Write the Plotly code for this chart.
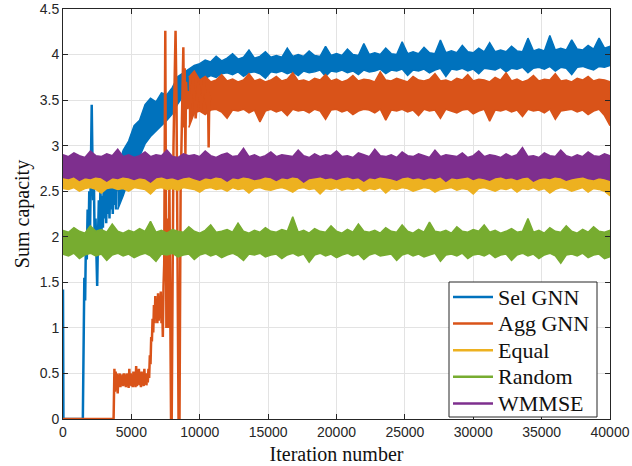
import plotly.graph_objects as go

# ---------------- data ----------------
# sampling grids (iteration index) for the steady-state envelopes
grid_all = list(range(0, 40001, 400))      # 101 samples
grid_sel = list(range(4000, 40001, 400))   # 91 samples
grid_agg = list(range(9200, 40001, 400))   # 78 samples

# WMMSE: upper / lower envelope of the noisy curve
wmmse_hi = [2.90, 2.88, 2.92, 2.89, 2.87, 2.94, 2.89, 2.88, 2.91, 2.89,
            2.96, 2.88, 2.90, 2.87, 2.89, 2.93, 2.88, 2.90, 2.89, 2.95,
            2.88, 2.87, 2.91, 2.89, 2.90, 2.88, 2.94, 2.89, 2.87, 2.90,
            2.92, 2.88, 2.89, 2.97, 2.88, 2.90, 2.87, 2.89, 2.93, 2.88,
            2.90, 2.89, 2.88, 2.95, 2.89, 2.87, 2.91, 2.88, 2.90, 2.89,
            2.94, 2.88, 2.89, 2.87, 2.92, 2.90, 2.88, 2.96, 2.89, 2.88,
            2.90, 2.87, 2.93, 2.89, 2.88, 2.91, 2.89, 2.87, 2.95, 2.88,
            2.90, 2.89, 2.88, 2.92, 2.87, 2.89, 2.94, 2.88, 2.90, 2.89,
            2.87, 2.91, 2.88, 2.90, 2.98, 2.88, 2.89, 2.87, 2.92, 2.89,
            2.88, 2.95, 2.89, 2.87, 2.90, 2.88, 2.93, 2.89, 2.88, 2.91, 2.89]
wmmse_lo = [2.65, 2.64, 2.66, 2.62, 2.65, 2.64, 2.66, 2.65, 2.61, 2.65,
            2.64, 2.66, 2.65, 2.63, 2.65, 2.64, 2.60, 2.65, 2.66, 2.64,
            2.65, 2.63, 2.65, 2.66, 2.64, 2.62, 2.65, 2.64, 2.66, 2.65,
            2.61, 2.65, 2.64, 2.66, 2.65, 2.63, 2.64, 2.66, 2.65, 2.62,
            2.65, 2.64, 2.66, 2.65, 2.60, 2.64, 2.65, 2.66, 2.64, 2.65,
            2.63, 2.65, 2.66, 2.64, 2.65, 2.61, 2.65, 2.64, 2.66, 2.65,
            2.64, 2.62, 2.65, 2.66, 2.64, 2.65, 2.63, 2.65, 2.64, 2.66,
            2.61, 2.65, 2.64, 2.65, 2.66, 2.63, 2.65, 2.64, 2.62, 2.65,
            2.66, 2.64, 2.65, 2.63, 2.65, 2.66, 2.61, 2.64, 2.65, 2.64,
            2.66, 2.65, 2.62, 2.64, 2.65, 2.66, 2.64, 2.63, 2.65, 2.64, 2.62]

# Equal power allocation
equal_hi = [2.68, 2.66, 2.70, 2.65, 2.69, 2.67, 2.71, 2.66, 2.68, 2.70,
            2.65, 2.69, 2.67, 2.72, 2.66, 2.68, 2.70, 2.65, 2.67, 2.69,
            2.71, 2.66, 2.68, 2.65, 2.70, 2.67, 2.69, 2.66, 2.71, 2.68,
            2.65, 2.70, 2.67, 2.69, 2.66, 2.72, 2.68, 2.65, 2.70, 2.67,
            2.69, 2.66, 2.71, 2.68, 2.65, 2.70, 2.67, 2.69, 2.66, 2.72,
            2.68, 2.65, 2.70, 2.67, 2.69, 2.66, 2.71, 2.68, 2.65, 2.70,
            2.67, 2.69, 2.66, 2.72, 2.68, 2.65, 2.70, 2.67, 2.69, 2.66,
            2.71, 2.68, 2.65, 2.70, 2.67, 2.69, 2.66, 2.72, 2.68, 2.65,
            2.70, 2.67, 2.69, 2.66, 2.71, 2.68, 2.65, 2.70, 2.67, 2.69,
            2.66, 2.72, 2.68, 2.65, 2.70, 2.67, 2.69, 2.66, 2.71, 2.68, 2.66]
equal_lo = [2.53, 2.52, 2.54, 2.50, 2.53, 2.54, 2.52, 2.48, 2.53, 2.54,
            2.52, 2.53, 2.50, 2.54, 2.53, 2.52, 2.47, 2.53, 2.54, 2.52,
            2.53, 2.51, 2.54, 2.53, 2.52, 2.49, 2.53, 2.54, 2.52, 2.53,
            2.50, 2.54, 2.52, 2.53, 2.48, 2.53, 2.54, 2.52, 2.51, 2.53,
            2.54, 2.52, 2.49, 2.53, 2.54, 2.52, 2.53, 2.47, 2.53, 2.52,
            2.54, 2.51, 2.53, 2.52, 2.54, 2.50, 2.53, 2.52, 2.54, 2.48,
            2.53, 2.52, 2.54, 2.53, 2.50, 2.52, 2.54, 2.53, 2.49, 2.52,
            2.53, 2.54, 2.51, 2.53, 2.52, 2.47, 2.53, 2.54, 2.52, 2.50,
            2.53, 2.52, 2.54, 2.49, 2.53, 2.52, 2.54, 2.51, 2.53, 2.48,
            2.52, 2.54, 2.53, 2.50, 2.52, 2.54, 2.49, 2.53, 2.52, 2.50, 2.45]

# Random allocation
random_hi = [2.07, 2.05, 2.10, 2.06, 2.04, 2.12, 2.06, 2.08, 2.05, 2.14,
             2.06, 2.04, 2.07, 2.05, 2.09, 2.06, 2.17, 2.05, 2.07, 2.04,
             2.08, 2.06, 2.05, 2.11, 2.06, 2.04, 2.07, 2.13, 2.05, 2.06,
             2.08, 2.05, 2.15, 2.06, 2.04, 2.07, 2.05, 2.10, 2.06, 2.05,
             2.08, 2.06, 2.22, 2.05, 2.07, 2.04, 2.09, 2.06, 2.05, 2.12,
             2.06, 2.04, 2.08, 2.05, 2.14, 2.06, 2.05, 2.07, 2.04, 2.10,
             2.06, 2.05, 2.13, 2.06, 2.04, 2.08, 2.05, 2.16, 2.06, 2.05,
             2.07, 2.04, 2.11, 2.06, 2.05, 2.08, 2.06, 2.13, 2.05, 2.07,
             2.04, 2.06, 2.09, 2.05, 2.06, 2.20, 2.05, 2.07, 2.04, 2.10,
             2.06, 2.05, 2.12, 2.06, 2.04, 2.08, 2.05, 2.11, 2.06, 2.05, 2.07]
random_lo = [1.81, 1.79, 1.82, 1.76, 1.80, 1.82, 1.79, 1.81, 1.74, 1.80,
             1.82, 1.79, 1.81, 1.77, 1.80, 1.82, 1.79, 1.73, 1.81, 1.80,
             1.82, 1.78, 1.80, 1.81, 1.75, 1.80, 1.82, 1.79, 1.81, 1.77,
             1.80, 1.82, 1.79, 1.74, 1.81, 1.80, 1.82, 1.78, 1.80, 1.81,
             1.76, 1.80, 1.82, 1.79, 1.81, 1.72, 1.80, 1.82, 1.79, 1.81,
             1.77, 1.80, 1.82, 1.79, 1.81, 1.75, 1.80, 1.82, 1.79, 1.80,
             1.81, 1.74, 1.80, 1.82, 1.79, 1.81, 1.78, 1.80, 1.82, 1.73,
             1.80, 1.81, 1.79, 1.82, 1.76, 1.80, 1.81, 1.79, 1.82, 1.77,
             1.80, 1.81, 1.74, 1.80, 1.82, 1.79, 1.81, 1.76, 1.80, 1.82,
             1.79, 1.71, 1.80, 1.81, 1.79, 1.82, 1.77, 1.80, 1.81, 1.76, 1.78]

# Selection GNN: warm-up trace, then envelope from iteration 4000 on
sel_early_iter = [0, 30, 1450, 1500, 1560, 1620, 1680, 1740, 1800, 1860,
                  1920, 1980, 2040, 2100, 2140, 2200, 2260, 2320, 2380, 2440,
                  2500, 2560, 2620, 2680, 2740, 2800, 2860, 2920, 2980, 3040,
                  3100, 3160, 3220, 3280, 3340, 3400, 3460, 3520, 3580, 3640,
                  3700, 3760, 3820, 3880, 3940, 4000]
sel_early_val = [1.42, 0.00, 0.00, 0.90, 1.55, 1.30, 2.00, 1.75, 2.30, 1.90,
                 2.50, 2.10, 2.70, 3.45, 3.00, 2.40, 2.60, 1.90, 2.20, 1.60,
                 1.46, 2.00, 2.40, 2.05, 2.55, 1.90, 2.45, 2.10, 2.60, 2.20,
                 2.55, 2.15, 2.65, 2.25, 2.60, 2.20, 2.70, 2.30, 2.65, 2.25,
                 2.75, 2.35, 2.70, 2.30, 2.80, 2.50]
sel_hi = [2.75, 2.95, 3.05, 3.22, 3.28, 3.45, 3.52, 3.48, 3.58, 3.56,
          3.64, 3.76, 3.80, 3.84, 3.88, 3.90, 3.94, 3.92, 3.98, 3.93,
          3.96, 4.01, 3.95, 3.97, 4.05, 3.96, 3.98, 4.03, 3.97, 3.99,
          3.97, 4.07, 3.98, 4.00, 3.98, 4.04, 3.99, 3.98, 4.09, 3.99,
          4.01, 3.99, 4.06, 4.00, 3.99, 4.12, 4.00, 4.02, 4.00, 4.07,
          4.01, 4.00, 4.14, 4.01, 4.03, 4.01, 4.08, 4.02, 4.01, 4.16,
          4.02, 4.04, 4.02, 4.10, 4.03, 4.02, 4.07, 4.03, 4.13, 4.03,
          4.05, 4.03, 4.09, 4.04, 4.03, 4.18, 4.04, 4.06, 4.04, 4.21,
          4.05, 4.07, 4.05, 4.16, 4.06, 4.05, 4.10, 4.06, 4.18, 4.07,
          4.09]
sel_lo = [2.30, 2.45, 2.62, 2.80, 2.88, 3.02, 3.10, 3.15, 3.22, 3.28,
          3.35, 3.46, 3.55, 3.60, 3.66, 3.70, 3.74, 3.77, 3.75, 3.79,
          3.80, 3.78, 3.81, 3.76, 3.80, 3.81, 3.79, 3.74, 3.81, 3.80,
          3.82, 3.79, 3.81, 3.77, 3.82, 3.80, 3.81, 3.83, 3.76, 3.82,
          3.81, 3.83, 3.80, 3.82, 3.78, 3.83, 3.81, 3.82, 3.84, 3.79,
          3.83, 3.82, 3.84, 3.77, 3.83, 3.82, 3.84, 3.80, 3.83, 3.85,
          3.76, 3.84, 3.83, 3.85, 3.82, 3.84, 3.79, 3.85, 3.84, 3.83,
          3.86, 3.81, 3.85, 3.84, 3.86, 3.80, 3.85, 3.86, 3.84, 3.87,
          3.82, 3.86, 3.85, 3.78, 3.86, 3.87, 3.85, 3.83, 3.87, 3.86,
          3.88]

# Aggregation GNN: warm-up trace, then envelope from iteration 9200 on
agg_early_iter = [0, 3700, 3760, 3800, 3850, 3900, 3950, 4000, 4050, 4100,
                  4150, 4200, 4250, 4300, 4350, 4400, 4450, 4500, 4550, 4600,
                  4650, 4700, 4750, 4800, 4850, 4900, 4950, 5000, 5050, 5100,
                  5150, 5200, 5250, 5300, 5350, 5400, 5450, 5500, 5550, 5600,
                  5650, 5700, 5750, 5800, 5850, 5900, 5950, 6000, 6050, 6100,
                  6150, 6200, 6250, 6300, 6350, 6400, 6450, 6500, 6550, 6600,
                  6650, 6700, 6750, 6800, 6850, 6900, 6950, 7000, 7050, 7100,
                  7150, 7200, 7250, 7300, 7350, 7400, 7480, 7560, 7620, 7700,
                  7780, 7850, 7900, 7950, 8000, 8080, 8150, 8230, 8300, 8380,
                  8450, 8520, 8600, 8700, 8800, 8850, 8900, 8950, 9000, 9100,
                  9200, 9300, 9500, 9700, 9900, 10100, 10300, 10500, 10600, 10650,
                  10700, 10800]
agg_early_val = [0.00, 0.00, 0.55, 0.30, 0.52, 0.40, 0.50, 0.28, 0.48, 0.38,
                 0.50, 0.35, 0.47, 0.37, 0.49, 0.36, 0.50, 0.38, 0.46, 0.35,
                 0.50, 0.37, 0.48, 0.34, 0.55, 0.38, 0.50, 0.36, 0.47, 0.35,
                 0.52, 0.37, 0.46, 0.35, 0.58, 0.36, 0.49, 0.38, 0.55, 0.37,
                 0.47, 0.35, 0.52, 0.38, 0.48, 0.36, 0.55, 0.38, 0.50, 0.37,
                 0.46, 0.40, 0.55, 0.45, 0.70, 0.60, 0.90, 0.85, 1.10, 0.95,
                 1.25, 1.05, 1.35, 1.10, 1.30, 1.05, 1.38, 1.08, 1.32, 1.15,
                 1.40, 1.05, 1.30, 0.90, 1.45, 1.70, 4.26, 1.00, 2.20, 1.00,
                 2.60, 0.60, 0.00, 0.00, 2.00, 3.00, 3.60, 4.26, 3.50, 1.00,
                 0.00, 0.00, 2.50, 3.30, 4.08, 3.20, 3.85, 2.90, 3.70, 3.40,
                 3.60, 3.40, 3.75, 3.30, 3.70, 3.40, 3.72, 3.45, 3.60, 2.98,
                 3.55, 3.50]
agg_hi = [3.75, 3.82, 3.72, 3.76, 3.70, 3.72, 3.78, 3.71, 3.73, 3.70,
          3.72, 3.79, 3.71, 3.73, 3.70, 3.72, 3.76, 3.71, 3.73, 3.80,
          3.71, 3.72, 3.70, 3.74, 3.72, 3.78, 3.71, 3.73, 3.70, 3.72,
          3.77, 3.71, 3.73, 3.72, 3.70, 3.81, 3.72, 3.71, 3.74, 3.72,
          3.70, 3.76, 3.72, 3.71, 3.73, 3.79, 3.71, 3.72, 3.70, 3.74,
          3.72, 3.78, 3.71, 3.73, 3.72, 3.70, 3.75, 3.72, 3.80, 3.71,
          3.73, 3.70, 3.72, 3.77, 3.71, 3.73, 3.72, 3.79, 3.71, 3.72,
          3.70, 3.74, 3.72, 3.76, 3.71, 3.73, 3.72, 3.70]
agg_lo = [3.20, 3.36, 3.38, 3.34, 3.39, 3.40, 3.37, 3.30, 3.39, 3.38,
          3.40, 3.36, 3.39, 3.26, 3.38, 3.40, 3.37, 3.39, 3.33, 3.40,
          3.38, 3.39, 3.36, 3.40, 3.38, 3.29, 3.39, 3.40, 3.37, 3.39,
          3.34, 3.38, 3.40, 3.39, 3.36, 3.40, 3.28, 3.39, 3.38, 3.40,
          3.37, 3.39, 3.33, 3.40, 3.38, 3.39, 3.30, 3.40, 3.38, 3.36,
          3.39, 3.40, 3.35, 3.38, 3.40, 3.27, 3.39, 3.38, 3.40, 3.37,
          3.39, 3.32, 3.40, 3.38, 3.39, 3.36, 3.40, 3.29, 3.38, 3.39,
          3.40, 3.37, 3.39, 3.34, 3.38, 3.40, 3.33, 3.22]

series_names = ["Sel GNN", "Agg GNN", "Equal", "Random", "WMMSE"]

x_tick_vals = [0, 5000, 10000, 15000, 20000, 25000, 30000, 35000, 40000]
x_tick_text = ["0", "5000", "10000", "15000", "20000", "25000", "30000", "35000", "40000"]
y_tick_vals = [0, 0.5, 1, 1.5, 2, 2.5, 3, 3.5, 4, 4.5]
y_tick_text = ["0", "0.5", "1", "1.5", "2", "2.5", "3", "3.5", "4", "4.5"]

for a, b in [(grid_all, wmmse_hi), (grid_all, wmmse_lo), (grid_all, equal_hi),
             (grid_all, equal_lo), (grid_all, random_hi), (grid_all, random_lo),
             (grid_sel, sel_hi), (grid_sel, sel_lo), (grid_agg, agg_hi),
             (grid_agg, agg_lo), (sel_early_iter, sel_early_val),
             (agg_early_iter, agg_early_val)]:
    assert len(a) == len(b), (len(a), len(b))

# ---------------- styling ----------------
BLUE = "#0072BD"
ORANGE = "#D95319"
YELLOW = "#EDB120"
PURPLE = "#7E2F8E"
GREEN = "#77AC30"
series_colors = [BLUE, ORANGE, YELLOW, GREEN, PURPLE]
AXIS_COLOR = "#262626"
TEXT_COLOR = "#111111"
SERIF = "Liberation Serif"
SANS = "Liberation Sans"
LW = 2.5


def band(xs, hi, lo, color):
    """Filled envelope of a noisy curve."""
    return go.Scatter(
        x=xs + xs[::-1], y=hi + lo[::-1], mode="lines", fill="toself",
        fillcolor=color, line=dict(color=color, width=1.5),
        hoverinfo="skip", showlegend=False)


def trace(xs, ys, color):
    return go.Scatter(x=xs, y=ys, mode="lines", showlegend=False,
                      line=dict(color=color, width=LW), hoverinfo="skip")


fig = go.Figure()
fig.add_trace(band(grid_sel, sel_hi, sel_lo, BLUE))
fig.add_trace(trace(sel_early_iter, sel_early_val, BLUE))
fig.add_trace(band(grid_agg, agg_hi, agg_lo, ORANGE))
fig.add_trace(trace(agg_early_iter, agg_early_val, ORANGE))
fig.add_trace(band(grid_all, equal_hi, equal_lo, YELLOW))
fig.add_trace(band(grid_all, random_hi, random_lo, GREEN))
fig.add_trace(band(grid_all, wmmse_hi, wmmse_lo, PURPLE))

axis_common = dict(
    showline=True, linecolor=AXIS_COLOR, linewidth=1, mirror="ticks",
    ticks="inside", ticklen=5, tickcolor=AXIS_COLOR,
    showgrid=True, gridcolor="#e3e3e3", gridwidth=1, zeroline=False,
    tickfont=dict(family=SANS, size=14, color=AXIS_COLOR),
    ticklabeloverflow="allow", automargin=False,
)

fig.update_xaxes(range=[0, 40000], tickvals=x_tick_vals, ticktext=x_tick_text,
                 title=dict(text="Iteration number", standoff=8,
                            font=dict(family=SERIF, size=20, color=TEXT_COLOR)),
                 **axis_common)
fig.update_yaxes(range=[0, 4.5], tickvals=y_tick_vals, ticktext=y_tick_text,
                 title=dict(text="Sum capacity", standoff=4,
                            font=dict(family=SERIF, size=20, color=TEXT_COLOR)),
                 **axis_common)

# legend box drawn in the lower-right corner of the axes
PLOT_L, PLOT_R, PLOT_T, PLOT_B = 63, 610, 9, 419


def px_x(px):
    return (px - PLOT_L) / (PLOT_R - PLOT_L)


def px_y(py):
    return (PLOT_B - py) / (PLOT_B - PLOT_T)


shapes = [dict(type="rect", xref="paper", yref="paper",
               x0=px_x(449), x1=px_x(597), y0=px_y(417), y1=px_y(282),
               line=dict(color=AXIS_COLOR, width=1), fillcolor="white",
               layer="above")]
annotations = []
row_gap = 26.6
for i, (name, color) in enumerate(zip(series_names, series_colors)):
    cy = 297 + i * row_gap
    shapes.append(dict(type="line", xref="paper", yref="paper",
                       x0=px_x(453), x1=px_x(493), y0=px_y(cy), y1=px_y(cy),
                       line=dict(color=color, width=LW), layer="above"))
    annotations.append(dict(xref="paper", yref="paper", x=px_x(496), y=px_y(cy),
                            xanchor="left", yanchor="middle", showarrow=False,
                            text=name,
                            font=dict(family=SERIF, size=22, color=TEXT_COLOR)))

fig.update_layout(
    width=632, height=466,
    margin=dict(l=PLOT_L, r=632 - PLOT_R, t=PLOT_T, b=466 - PLOT_B),
    paper_bgcolor="white", plot_bgcolor="white",
    showlegend=False, shapes=shapes, annotations=annotations,
)

fig.write_html("out.html")
